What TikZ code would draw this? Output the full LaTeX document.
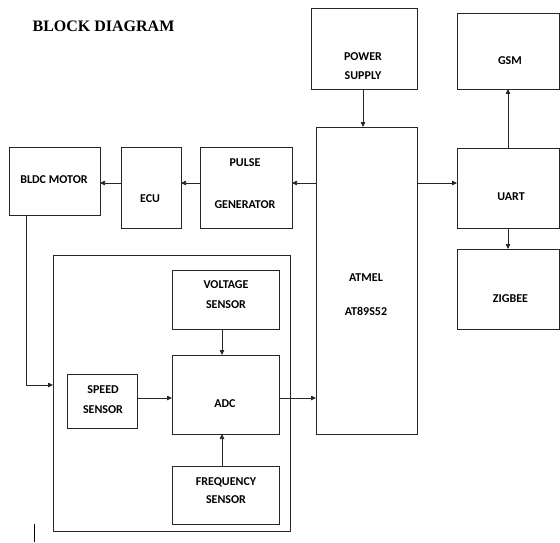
\documentclass[tikz,border=0pt]{standalone}
\usepackage{fontspec}
\setmainfont{Liberation Serif}
\newfontfamily\lblfont{Carlito}
\usetikzlibrary{arrows.meta}
\tikzset{
  box/.style={draw=black!85, line width=0.75pt, inner sep=0pt, outer sep=0pt},
  lab/.style={font=\lblfont\bfseries\fontsize{12}{14}\selectfont, anchor=base, inner sep=0pt},
  arr/.style={draw=black!85, line width=0.75pt, -{Triangle[length=5pt,width=4.5pt]}},
  ln/.style={draw=black!85, line width=0.75pt}
}
\begin{document}
\begin{tikzpicture}[x=1pt,y=-1pt]
\useasboundingbox (0,0) rectangle (560,543);
% title
\node[font=\bfseries\fontsize{16}{18}\selectfont, inner sep=0pt, anchor=base] (title) at (103.5,32) {BLOCK DIAGRAM};
% boxes
\node[box, minimum width=106pt, minimum height=81pt] (ps) at (364,48.5) {};
\node[box, minimum width=102pt, minimum height=76pt] (gsm) at (508,51) {};
\node[box, minimum width=101pt, minimum height=307pt] (mcu) at (366.5,280.5) {};
\node[box, minimum width=102pt, minimum height=80pt] (uart) at (508,188) {};
\node[box, minimum width=102pt, minimum height=80pt] (zig) at (508,289) {};
\node[box, minimum width=91pt, minimum height=68pt] (bldc) at (54.5,181) {};
\node[box, minimum width=60pt, minimum height=81pt] (ecu) at (151,187.5) {};
\node[box, minimum width=92pt, minimum height=81pt] (pulse) at (246,187.5) {};
\node[box, minimum width=237pt, minimum height=276pt] (outer) at (171.5,393) {};
\node[box, minimum width=107pt, minimum height=59pt] (volt) at (225.5,299.5) {};
\node[box, minimum width=107pt, minimum height=79pt] (adc) at (225.5,394.5) {};
\node[box, minimum width=107pt, minimum height=58pt] (freq) at (225.5,495) {};
\node[box, minimum width=70pt, minimum height=54pt] (speed) at (102,401) {};
% labels
\node[lab] (ps1) at (363,60.5) {POWER};
\node[lab] (ps2) at (363,79.5) {SUPPLY};
\node[lab] (gsmt) at (510,64.5) {GSM};
\node[lab] (uartt) at (511,200) {UART};
\node[lab] (zigt) at (510.5,302) {ZIGBEE};
\node[lab] (mcu1) at (366,281) {ATMEL};
\node[lab] (mcu2) at (366,315.5) {AT89S52};
\node[lab] (bldct) at (54,183) {BLDC MOTOR};
\node[lab] (ecut) at (150,202) {ECU};
\node[lab] (pul1) at (245,166.5) {PULSE};
\node[lab] (pul2) at (245,208) {GENERATOR};
\node[lab] (volt1) at (226,288) {VOLTAGE};
\node[lab] (volt2) at (226,308) {SENSOR};
\node[lab] (adct) at (225,407) {ADC};
\node[lab] (spd1) at (103,393) {SPEED};
\node[lab] (spd2) at (103,413) {SENSOR};
\node[lab] (frq1) at (226,485.5) {FREQUENCY};
\node[lab] (frq2) at (226,503) {SENSOR};
% helper coordinates
\coordinate (rowA) at (0,183);
\coordinate (rowB) at (0,398);
\coordinate (colA) at (222,0);
\coordinate (colP) at (363,0);
\coordinate (bend) at (26,385);
% connectors
\draw[arr] (ps.south -| colP) -- (mcu.north -| colP);
\draw[arr] (mcu.east |- rowA) -- (uart.west |- rowA);
\draw[arr] (mcu.west |- rowA) -- (pulse.east |- rowA);
\draw[arr] (pulse.west |- rowA) -- (ecu.east |- rowA);
\draw[arr] (ecu.west |- rowA) -- (bldc.east |- rowA);
\draw[arr] (uart.north) -- (gsm.south);
\draw[arr] (uart.south) -- (zig.north);
\draw[arr] (bldc.south -| bend) -- (bend) -- (outer.west |- bend);
\draw[arr] (volt.south -| colA) -- (adc.north -| colA);
\draw[arr] (freq.north -| colA) -- (adc.south -| colA);
\draw[arr] (speed.east |- rowB) -- (adc.west |- rowB);
\draw[arr] (adc.east |- rowB) -- (mcu.west |- rowB);
% stray cursor mark
\coordinate (curA) at (34,524);
\coordinate (curB) at (34,542);
\draw[ln, draw=black, line width=1pt] (curA) -- (curB);
\end{tikzpicture}
\end{document}
